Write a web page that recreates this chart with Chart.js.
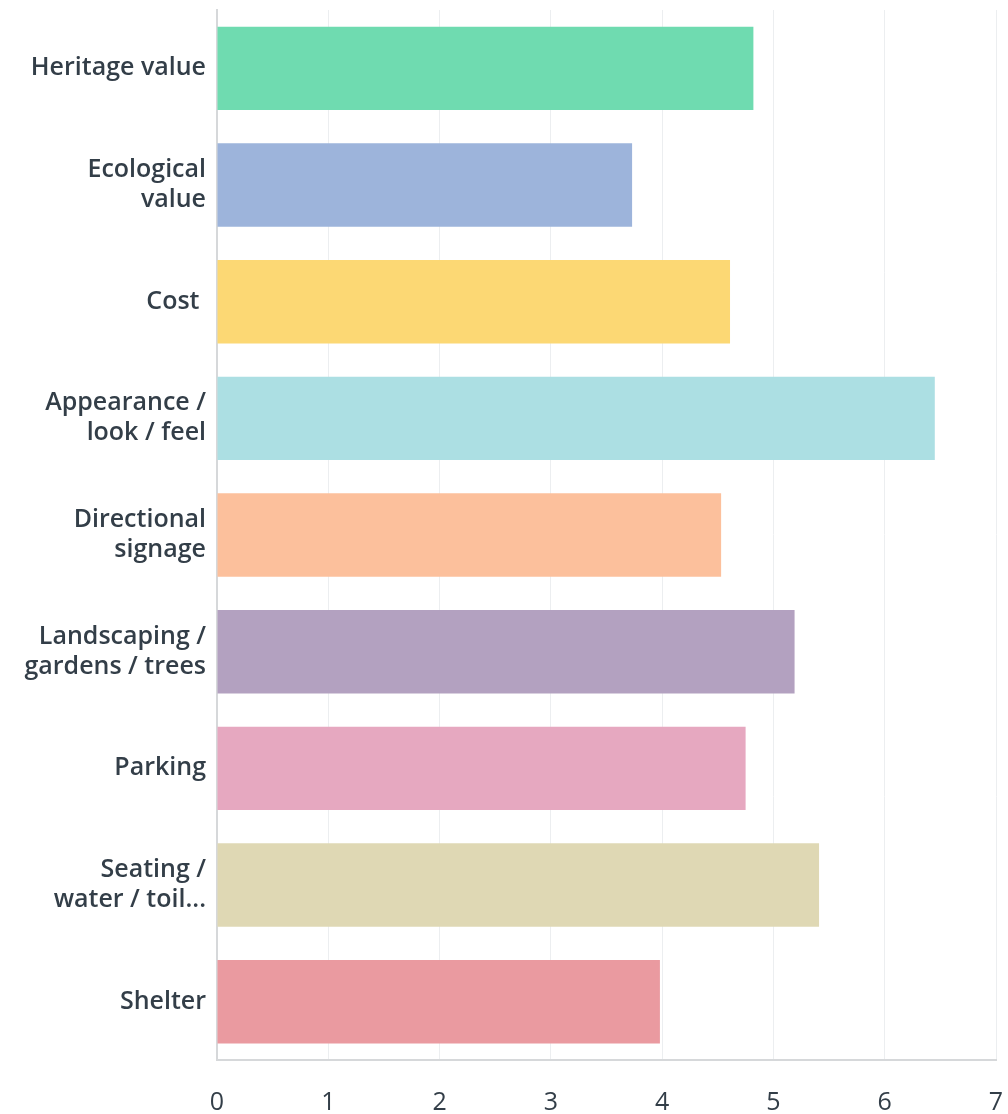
<!DOCTYPE html>
<html>
<head>
<meta charset="utf-8">
<script src="https://cdn.jsdelivr.net/npm/chart.js@4.4.0/dist/chart.umd.min.js"></script>
<style>
  html, body { margin: 0; padding: 0; background: #ffffff; }
  #wrap { width: 1008px; height: 1114px; }
</style>
</head>
<body>
<div id="wrap"><canvas id="mycanvas" width="1008" height="1114"></canvas></div>
<script>
// categories (wrapped as in the picture)
var labels = [
  "Heritage value",
  ["Ecological", "value"],
  "Cost ",
  ["Appearance /", "look / feel"],
  ["Directional", "signage"],
  ["Landscaping /", "gardens / trees"],
  "Parking",
  ["Seating /", "water / toil..."],
  "Shelter"
];

// average scores
var scores = [4.82, 3.73, 4.61, 6.45, 4.53, 5.19, 4.75, 5.41, 3.98];

var barColors = [
  "#6fdbb0", "#9db4db", "#fcd874", "#acdfe3", "#fcc09c",
  "#b3a1c0", "#e6a8c0", "#dfd8b4", "#ea9aa0"
];

var xTicks = [0, 1, 2, 3, 4, 5, 6, 7];

var textColor = "#333e48";

var ctx = document.getElementById("mycanvas");

var chart = new Chart(ctx, {
  type: 'bar',
  data: {
    labels: labels,
    datasets: [{
      data: scores,
      backgroundColor: barColors,
      borderWidth: 0,
      barPercentage: 0.715,
      categoryPercentage: 1
    }]
  },
  options: {
    indexAxis: 'y',
    responsive: false,
    animation: false,
    layout: { padding: { top: 10, right: 12, left: 0, bottom: 0 } },
    plugins: {
      legend: { display: false },
      tooltip: { enabled: false }
    },
    scales: {
      x: {
        min: 0,
        max: 7,
        afterBuildTicks: function(scale) {
          scale.ticks = xTicks.map(function(v) { return { value: v }; });
        },
        afterFit: function(scale) {
          scale.height = 54;
          scale.paddingLeft = 0;
          scale.paddingRight = 0;
        },
        grid: { color: "#eceef0", lineWidth: 1, drawTicks: false },
        border: { color: "#d6d8da", width: 2 },
        ticks: {
          color: textColor,
          padding: 28,
          font: { family: "Open Sans", size: 25, weight: "500" }
        }
      },
      y: {
        afterFit: function(scale) {
          scale.width = 217;
          scale.paddingTop = 0;
          scale.paddingBottom = 0;
        },
        grid: { display: false, drawTicks: false },
        border: { color: "#d6d8da", width: 2 },
        ticks: {
          color: textColor,
          padding: 11,
          font: { family: "Open Sans", size: 25, weight: "600", lineHeight: 1.2 }
        }
      }
    }
  }
});
</script>
</body>
</html>
